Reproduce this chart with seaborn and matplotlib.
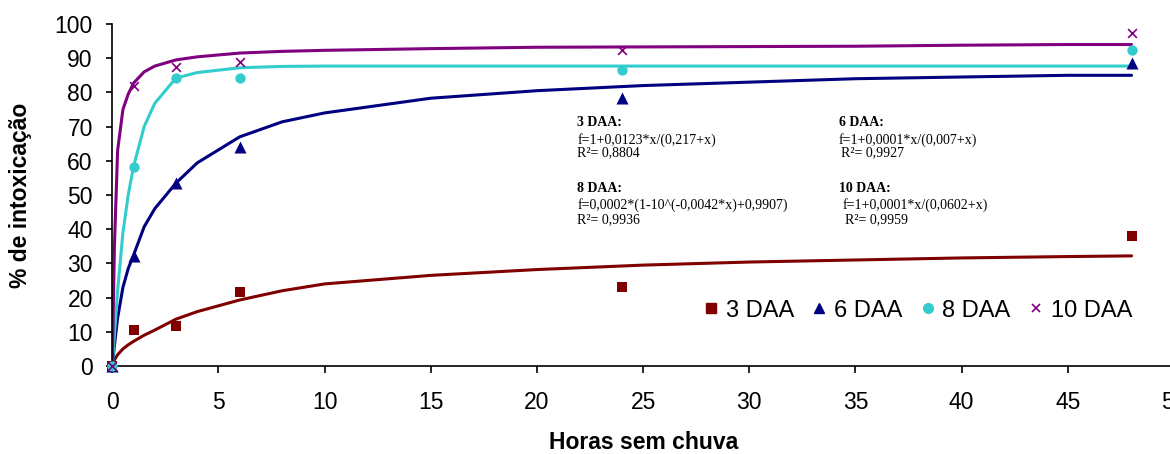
import seaborn as sns
import numpy as np
import pandas as pd
import matplotlib.pyplot as plt
from matplotlib.lines import Line2D

# observed points
horas = [0, 1, 3, 6, 24, 48]
daa3 = [0, 10.5, 11.8, 21.7, 23, 38]
daa6 = [0, 32.2, 53.5, 64, 78.5, 88.5]
daa8 = [0, 58.2, 84.3, 84.3, 86.5, 92.5]
daa10 = [0, 82, 87.5, 89, 92.5, 97.5]

# fitted curves
curva_x = [0, 0.1, 0.25, 0.5, 0.75, 1, 1.5, 2, 3, 4, 6, 8, 10, 15, 20, 25, 30, 35, 40, 45, 48]
curva3 = [0, 1.8, 3.3, 5, 6.2, 7.2, 9, 10.5, 13.7, 15.9, 19.3, 22, 24, 26.5, 28.2, 29.5, 30.4, 31, 31.6, 32, 32.2]
curva6 = [0, 6, 14, 23, 28.5, 32.4, 40.7, 46, 53.5, 59.4, 67, 71.4, 74, 78.3, 80.5, 82, 83, 84, 84.5, 85, 85]
curva8 = [0, 9, 22, 39, 50, 58.3, 70, 76.8, 84.2, 85.8, 87.2, 87.6, 87.7, 87.7, 87.7, 87.7, 87.7, 87.7, 87.7, 87.7, 87.7]
curva10 = [0, 35, 63, 75, 79.5, 82.7, 86, 87.7, 89.5, 90.4, 91.5, 92, 92.3, 92.8, 93.2, 93.3, 93.4, 93.5, 93.8, 94, 94]

series = ['3 DAA', '6 DAA', '8 DAA', '10 DAA']
cores = {'3 DAA': '#800000', '6 DAA': '#000080', '8 DAA': '#33CCCC', '10 DAA': '#800080'}
marcas = {'3 DAA': 's', '6 DAA': '^', '8 DAA': 'o', '10 DAA': 'x'}
tam = {'3 DAA': 55, '6 DAA': 75, '8 DAA': 55, '10 DAA': 40}

pontos = pd.DataFrame({
    'horas': horas * 4,
    'valor': daa3 + daa6 + daa8 + daa10,
    'serie': [s for s in series for _ in horas],
})
curvas = pd.DataFrame({
    'horas': curva_x * 4,
    'valor': curva3 + curva6 + curva8 + curva10,
    'serie': [s for s in series for _ in curva_x],
})

sns.set_style("ticks")
plt.rcParams['font.family'] = ['Liberation Sans', 'DejaVu Sans']
plt.rcParams['text.color'] = 'black'
plt.rcParams['axes.labelcolor'] = 'black'
plt.rcParams['xtick.color'] = 'black'
plt.rcParams['ytick.color'] = 'black'

fig = plt.figure(figsize=(11.7, 4.54), dpi=100)
ax = fig.add_axes([112.3 / 1170, 1 - 366 / 454, (1174 - 112.3) / 1170, (366 - 24) / 454])

sns.lineplot(data=curvas, x='horas', y='valor', hue='serie', palette=cores,
             linewidth=2.2, legend=False, ax=ax, sort=False)
for s in series:
    sub = pontos[pontos.serie == s]
    lw = 1.2 if s == '10 DAA' else 0
    sns.scatterplot(x=sub.horas, y=sub.valor, color=cores[s], marker=marcas[s],
                    s=tam[s], linewidth=lw, edgecolor=cores[s] if s != '10 DAA' else None,
                    ax=ax, zorder=3, clip_on=False, legend=False)

ax.set_xlim(0, 50)
ax.set_ylim(0, 100)
ax.set_xticks(range(0, 51, 5))
ax.set_yticks(range(0, 101, 10))
ax.tick_params(axis='both', labelsize=16.5, width=1.2, direction='out')
ax.tick_params(axis='x', length=5, pad=13)
ax.tick_params(axis='y', length=4, pad=10)
for sp in ['left', 'bottom']:
    ax.spines[sp].set_color('black')
    ax.spines[sp].set_linewidth(1.2)
sns.despine(ax=ax)
ax.set_xlabel('Horas sem chuva', fontsize=16.5, fontweight='bold', labelpad=12)
ax.set_ylabel('% de intoxicação', fontsize=16.5, fontweight='bold', labelpad=16)

handles = [Line2D([], [], linestyle='none', marker=marcas[s], color=cores[s],
                  markersize=7 if s != '10 DAA' else 6, markeredgewidth=1.2 if s == '10 DAA' else 1)
           for s in series]
ax.legend(handles, series, loc='center right', bbox_to_anchor=(0.9604, 0.1617), ncol=4,
          frameon=False, fontsize=17, handletextpad=0.23, columnspacing=0.66,
          handlelength=0.8, borderpad=0, borderaxespad=0)

serif = ['Liberation Serif', 'DejaVu Serif']
txt = dict(fontsize=10, family=serif, va='center', ha='left')
ax.text(21.9, 71.1, '3 DAA:', fontweight='bold', **txt)
ax.text(21.9, 66.1, 'f=1+0,0123*x/(0,217+x)', **txt)
ax.text(21.9, 62.3, 'R²= 0,8804', **txt)
ax.text(21.9, 51.9, '8 DAA:', fontweight='bold', **txt)
ax.text(21.9, 47.1, 'f=0,0002*(1-10^(-0,0042*x)+0,9907)', **txt)
ax.text(21.9, 42.7, 'R²= 0,9936', **txt)
ax.text(34.2, 71.1, '6 DAA:', fontweight='bold', **txt)
ax.text(34.2, 66.1, 'f=1+0,0001*x/(0,007+x)', **txt)
ax.text(34.3, 62.3, 'R²= 0,9927', **txt)
ax.text(34.2, 51.9, '10 DAA:', fontweight='bold', **txt)
ax.text(34.4, 47.1, 'f=1+0,0001*x/(0,0602+x)', **txt)
ax.text(34.5, 42.7, 'R²= 0,9959', **txt)

fig.savefig('out.png', dpi=100)
